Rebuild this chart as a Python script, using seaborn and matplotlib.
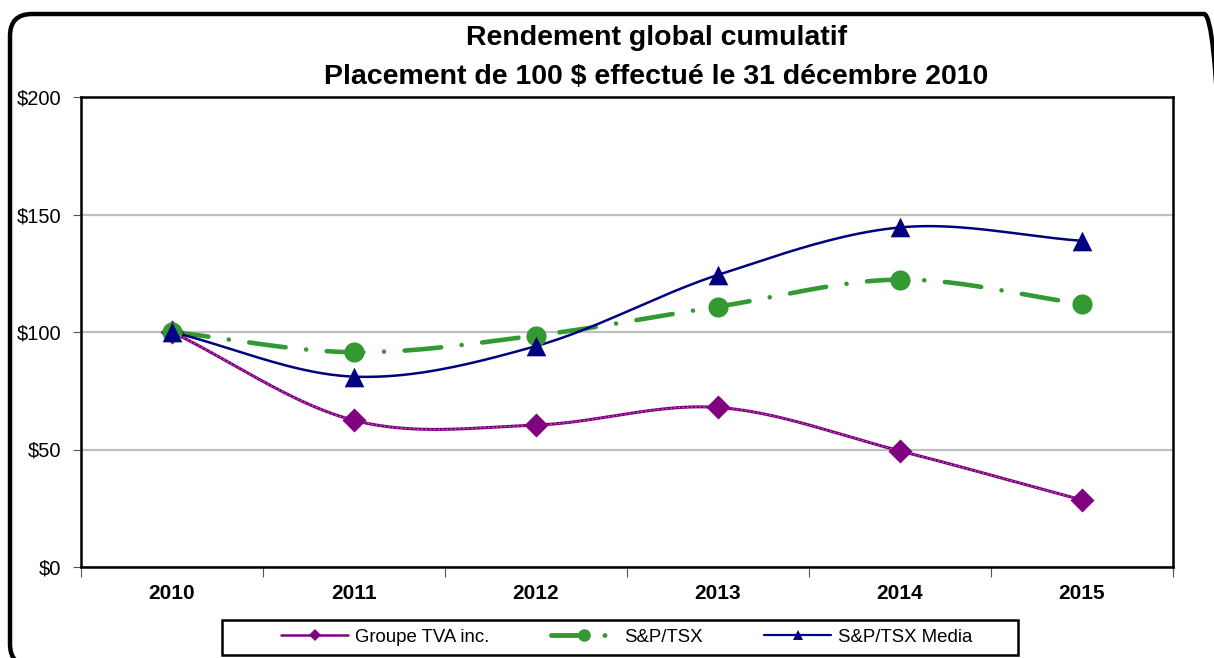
"""Cumulative total return chart (Groupe TVA vs S&P/TSX indices)."""

import matplotlib
matplotlib.use("Agg")
import matplotlib.pyplot as plt
import matplotlib.patches as mpatches
import matplotlib.transforms as mtransforms
from matplotlib.lines import Line2D
import numpy as np
import pandas as pd
import seaborn as sns

# Data
years = ["2010", "2011", "2012", "2013", "2014", "2015"]
tva = [100, 62.4, 60.4, 67.9, 49.4, 28.5]
tsx = [100, 91.4, 98.5, 110.8, 122.3, 112.0]
tsx_media = [100, 81.0, 94.0, 124.3, 144.5, 138.8]

series_names = ["Groupe TVA inc.", "S&P/TSX", "S&P/TSX Media"]
title_lines = ["Rendement global cumulatif", "Placement de 100 $ effectué le 31 décembre 2010"]
y_ticks = [0, 50, 100, 150, 200]


def smooth(x, y, steps=40):
    """Catmull-Rom style smoothing, like Excel's 'smoothed line' option."""
    x = np.asarray(x, float)
    y = np.asarray(y, float)
    px = np.concatenate([[2 * x[0] - x[1]], x, [2 * x[-1] - x[-2]]])
    py = np.concatenate([[2 * y[0] - y[1]], y, [2 * y[-1] - y[-2]]])
    xs, ys = [], []
    t = np.linspace(0, 1, steps, endpoint=False)
    for i in range(1, len(px) - 2):
        for p, out in ((px, xs), (py, ys)):
            p0, p1, p2, p3 = p[i - 1], p[i], p[i + 1], p[i + 2]
            out.extend(0.5 * (2 * p1 + (-p0 + p2) * t
                              + (2 * p0 - 5 * p1 + 4 * p2 - p3) * t ** 2
                              + (-p0 + 3 * p1 - 3 * p2 + p3) * t ** 3))
    xs.append(x[-1])
    ys.append(y[-1])
    return pd.DataFrame({"x": xs, "y": ys})


sns.set_style("white")
plt.rcParams["font.family"] = ["Liberation Sans", "DejaVu Sans"]
plt.rcParams["text.color"] = "black"
plt.rcParams["xtick.color"] = "black"
plt.rcParams["ytick.color"] = "black"

W, H = 1214, 658
fig = plt.figure(figsize=(W / 100, H / 100), dpi=100)
ax = fig.add_axes([81 / W, 91 / H, 1092 / W, 470 / H])

pos = np.arange(len(years))
purple = "#800080"
green = "#339933"
navy = "#000080"

# Groupe TVA: purple smoothed line with faint white texture
d = smooth(pos, tva)
sns.lineplot(data=d, x="x", y="y", ax=ax, color=purple, lw=2.2, sort=False, zorder=3)
ax.plot(d["x"], d["y"], color="white", lw=0.6, ls=(0, (2, 3)), alpha=0.6, zorder=3.1)
sns.scatterplot(x=pos, y=tva, ax=ax, marker="D", s=150, color=purple, linewidth=0, zorder=4)

# S&P/TSX: green dash-dot smoothed line
d = smooth(pos, tsx)
sns.lineplot(data=d, x="x", y="y", ax=ax, color=green, lw=3.3, sort=False, zorder=3)
ax.lines[-1].set_linestyle((0, (8, 4.5, 0.01, 4.5)))
ax.lines[-1].set_dash_capstyle("round")
sns.scatterplot(x=pos, y=tsx, ax=ax, marker="o", s=210, color=green, linewidth=0, zorder=4)

# S&P/TSX Media: navy smoothed line
d = smooth(pos, tsx_media)
sns.lineplot(data=d, x="x", y="y", ax=ax, color=navy, lw=1.8, sort=False, zorder=3.5)
sns.scatterplot(x=pos, y=tsx_media, ax=ax, marker="^", s=200, color=navy, linewidth=0,
                zorder=4.5)

# Axes
ax.set_xlim(-0.5, len(years) - 0.5)
ax.set_ylim(0, 200)
ax.set_xticks(pos)
ax.set_xticklabels(years, fontsize=15, fontweight="bold")
ax.set_xticks(np.arange(-0.5, len(years)), minor=True)
ax.tick_params(axis="x", which="major", length=0, pad=12)
ax.tick_params(axis="x", which="minor", length=7, width=0.8, color="#555555",
               direction="out", bottom=True)
ax.set_yticks(y_ticks)
ax.set_yticklabels([f"${v}" for v in y_ticks], fontsize=14.5)
ax.tick_params(axis="y", length=6, width=0.8, color="#555555", direction="out", left=True,
               pad=8)
ax.set_xlabel("")
ax.set_ylabel("")
ax.yaxis.grid(True, color="#c0c0c0", lw=1.6)
ax.set_axisbelow(True)
for s in ax.spines.values():
    s.set_visible(True)
    s.set_color("black")
    s.set_linewidth(1.8)

# Title
fig.text(657 / W, 1 - 38 / H, title_lines[0], ha="center", va="center",
         fontsize=20.5, fontweight="bold")
fig.text(656 / W, 1 - 77 / H, title_lines[1], ha="center", va="center",
         fontsize=20.5, fontweight="bold")

# Legend (entries without frame, box drawn separately)
handles = [
    Line2D([], [], color=purple, lw=1.8, marker="D", ms=6, markeredgewidth=0),
    Line2D([], [], color=green, lw=3.5, marker="o", ms=8, ls=(0, (7.5, 3.5, 0.01, 10)),
           dash_capstyle="round"),
    Line2D([], [], color=navy, lw=1.6, marker="^", ms=7, markeredgewidth=0),
]
leg = fig.legend(handles, series_names, loc="center left",
                 bbox_to_anchor=(281 / W, 1 - 637 / H), ncol=3, fontsize=13.4,
                 frameon=False, handlelength=3.6, columnspacing=3.32,
                 handletextpad=0.35, borderpad=0, borderaxespad=0)
legend_box = mpatches.Rectangle((222, H - 655), 796, 35, fill=False, lw=1.8,
                                edgecolor="black",
                                transform=mtransforms.IdentityTransform())
fig.add_artist(legend_box)

# Outer rounded frame (extends past right and bottom edges)
frame = mpatches.FancyBboxPatch((10, -8), 1216, H - 14 + 8,
                                boxstyle="round,pad=0,rounding_size=22",
                                transform=mtransforms.IdentityTransform(),
                                fill=False, lw=3.2, edgecolor="black")
fig.add_artist(frame)

fig.savefig("out.png", dpi=100)
